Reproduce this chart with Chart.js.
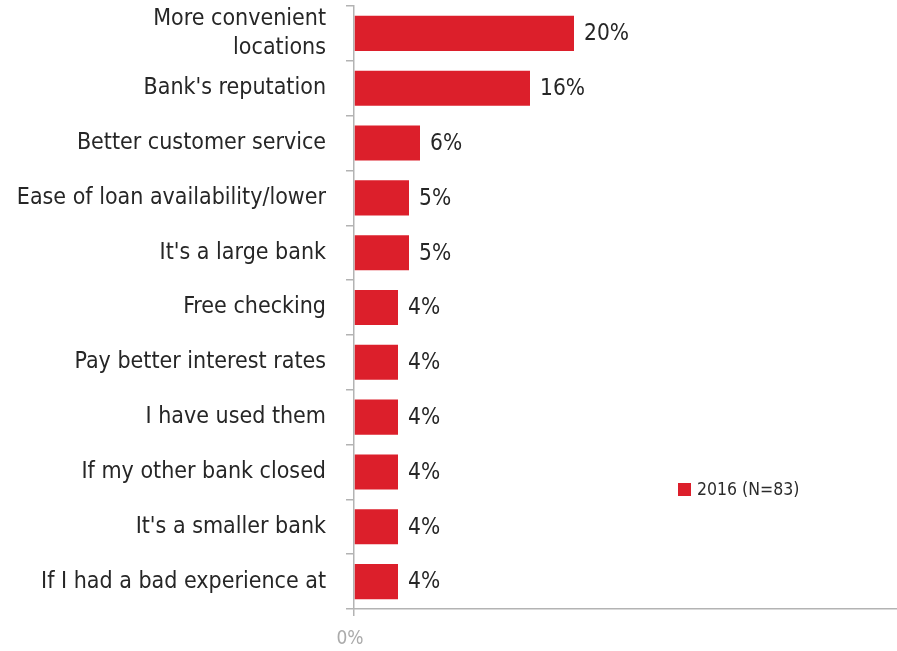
<!DOCTYPE html>
<html>
<head>
<meta charset="utf-8">
<title>Reasons to switch banks</title>
<script src="https://cdn.jsdelivr.net/npm/chart.js@4/dist/chart.umd.min.js"></script>
<style>
  html, body { margin: 0; padding: 0; background: #fff; overflow: hidden; }
  #wrap { position: relative; width: 904px; height: 651px; }
</style>
</head>
<body>
<div id="wrap"><canvas id="chart"></canvas></div>
<script>
// Reasons given, top to bottom
const categories = [
  ["More convenient", "locations"],
  "Bank's reputation",
  "Better customer service",
  "Ease of loan availability/lower",
  "It's a large bank",
  "Free checking",
  "Pay better interest rates",
  "I have used them",
  "If my other bank closed",
  "It's a smaller bank",
  "If I had a bad experience at"
];
// Share of respondents, percent
const shares2016 = [20, 16, 6, 5, 5, 4, 4, 4, 4, 4, 4];
const seriesLabel = "2016 (N=83)";
const xTicks = [0];

const RED = "#dc1f2b";
const AXIS = "#b3b3b3";
const FONT = "'DejaVu Sans Condensed', 'Liberation Sans Narrow', 'DejaVu Sans', sans-serif";

// Percent label at the end of each bar
const valueLabels = {
  id: "valueLabels",
  afterDatasetsDraw(chart) {
    const ctx = chart.ctx;
    const meta = chart.getDatasetMeta(0);
    const data = chart.data.datasets[0].data;
    ctx.save();
    ctx.font = "22.5px " + FONT;
    ctx.fillStyle = "#262626";
    ctx.textAlign = "left";
    ctx.textBaseline = "middle";
    meta.data.forEach((bar, i) => {
      ctx.fillText(data[i] + "%", bar.x + 10, bar.y + 1);
    });
    ctx.restore();
  }
};

// Single-entry legend placed inside the plot
const sideLegend = {
  id: "sideLegend",
  afterDraw(chart) {
    const ctx = chart.ctx;
    const ds = chart.data.datasets[0];
    const x = 678, y = 490;
    ctx.save();
    ctx.fillStyle = ds.backgroundColor;
    ctx.fillRect(x, y - 7, 13, 13);
    ctx.font = "17.5px " + FONT;
    ctx.fillStyle = "#2b2b2b";
    ctx.textAlign = "left";
    ctx.textBaseline = "middle";
    ctx.fillText(ds.label, x + 19, y);
    ctx.restore();
  }
};

new Chart(document.getElementById("chart"), {
  type: "bar",
  data: {
    labels: categories,
    datasets: [{
      label: seriesLabel,
      data: shares2016,
      backgroundColor: RED,
      borderWidth: 0,
      categoryPercentage: 1,
      barPercentage: 0.64
    }]
  },
  options: {
    indexAxis: "y",
    responsive: true,
    maintainAspectRatio: false,
    animation: false,
    layout: { padding: { top: 6, left: 0, right: 0, bottom: 0 } },
    plugins: {
      legend: { display: false },
      tooltip: { enabled: false }
    },
    scales: {
      x: {
        min: 0,
        max: 50,
        afterBuildTicks(scale) {
          scale.ticks = xTicks.map(v => ({ value: v }));
        },
        afterFit(scale) {
          scale.height = 42;
          scale.paddingLeft = 0;
          scale.paddingRight = 0;
        },
        border: { display: true, color: AXIS, width: 1.5 },
        grid: {
          drawOnChartArea: false,
          drawTicks: true,
          tickLength: 7,
          color: AXIS,
          lineWidth: 1.5
        },
        ticks: {
          padding: 12,
          labelOffset: -4,
          color: "#ababab",
          font: { family: FONT, size: 19 },
          callback: v => v + "%"
        }
      },
      y: {
        offset: true,
        afterFit(scale) {
          scale.width = 354;
          scale.paddingTop = 0;
          scale.paddingBottom = 0;
        },
        border: { display: true, color: AXIS, width: 1.5 },
        grid: {
          offset: true,
          drawOnChartArea: false,
          drawTicks: true,
          tickLength: 8,
          color: AXIS,
          lineWidth: 1.5
        },
        ticks: {
          autoSkip: false,
          padding: 20,
          color: "#262626",
          font: { family: FONT, size: 23, lineHeight: 1.26 }
        }
      }
    }
  },
  plugins: [valueLabels, sideLegend]
});
</script>
</body>
</html>
